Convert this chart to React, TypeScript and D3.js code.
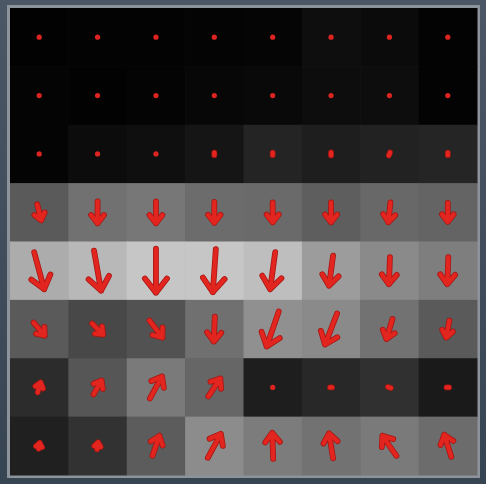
import { useMemo } from 'react';
import * as d3 from 'd3';

// 8x8 flow field: gray = magnitude image, arrows = (u, v) vectors
const rowIds = ['r0', 'r1', 'r2', 'r3', 'r4', 'r5', 'r6', 'r7'];
const colIds = ['c0', 'c1', 'c2', 'c3', 'c4', 'c5', 'c6', 'c7'];

const intensity: number[][] = [
    [2, 3, 3, 4, 5, 14, 11, 3],
    [4, 2, 4, 7, 9, 13, 13, 3],
    [4, 12, 15, 21, 36, 30, 34, 37],
    [90, 113, 119, 108, 106, 94, 104, 100],
    [172, 184, 198, 198, 190, 156, 138, 126],
    [90, 72, 82, 112, 144, 138, 114, 90],
    [44, 86, 122, 102, 30, 40, 48, 26],
    [32, 50, 92, 140, 124, 114, 122, 108],
];

const flowU: number[][] = [
    [0, 0, 0, 0, 0, 0.8, 0.8, 0],
    [0, 0, 0, 0, 0, 0, 0.5, 0],
    [0, 0, 0, 0, 0, 0, -1.2, 0],
    [4, 0, 0, 0, 0, 0, -2, 0],
    [10, 7, 0, -3, -5, -4, -1, -1],
    [11, 11, 13, -1, -12, -12, -6, -3],
    [3, 8, 12, 12, 0, -2, -3, -2.5],
    [1, 1, 7, 13, -1, -4, -14, -7],
];

const flowV: number[][] = [
    [0, 0, 0, 0, 0, 0, 0, 0],
    [0, 0, 0, 0, 0, 0, 0, 0],
    [0, 0, 0.5, 2.5, 2.5, 3, 3, 2.5],
    [16, 22, 22, 21, 20, 20, 20, 19],
    [37, 40, 44, 43, 37, 30, 27, 27],
    [13, 11, 17, 25, 35, 31, 20, 17],
    [-10, -14, -22, -18, -1, 0, -1, 0],
    [-6, -7, -20, -24, -26, -25, -20, -22],
];

const W = 486;
const H = 484;
const grid = { left: 10, top: 8, size: 467 };

export default function App() {
    const x = d3.scaleBand().domain(colIds).range([grid.left, grid.left + grid.size]);
    const y = d3.scaleBand().domain(rowIds).range([grid.top, grid.top + grid.size]);
    const gray = d3.scaleLinear<string>().domain([0, 255]).range(['#000000', '#ffffff']);
    // flow units -> pixels
    const vec = d3.scaleLinear().domain([0, 58.4]).range([0, x.bandwidth()]);

    const cells = useMemo(() => {
        const out: { r: string; c: string; g: number; u: number; v: number }[] = [];
        rowIds.forEach((r, i) =>
            colIds.forEach((c, j) =>
                out.push({ r, c, g: intensity[i][j], u: flowU[i][j], v: flowV[i][j] })
            )
        );
        return out;
    }, []);

    const arrowPath = (cx: number, cy: number, u: number, v: number) => {
        const dx = vec(u);
        const dy = vec(v);
        const len = Math.hypot(dx, dy);
        const x1 = cx - dx / 2, y1 = cy - dy / 2;
        const x2 = cx + dx / 2, y2 = cy + dy / 2;
        const p = d3.path();
        p.moveTo(x1, y1);
        p.lineTo(x2, y2);
        if (len > 6) {
            const head = 0.34 * len + 3;
            const ang = Math.atan2(dy, dx);
            const a = (38 * Math.PI) / 180;
            p.moveTo(x2 - head * Math.cos(ang - a), y2 - head * Math.sin(ang - a));
            p.lineTo(x2, y2);
            p.lineTo(x2 - head * Math.cos(ang + a), y2 - head * Math.sin(ang + a));
        }
        return p.toString();
    };

    return (
        <svg width={W} height={H} style={{ position: 'absolute', left: 0, top: 0 }}>
            <defs>
                <linearGradient id="bg" x1="0" y1="0" x2="0" y2="1">
                    <stop offset="0%" stopColor="#4b5765" />
                    <stop offset="100%" stopColor="#374451" />
                </linearGradient>
            </defs>
            <rect width={W} height={H} fill="url(#bg)" />
            <rect
                x={grid.left - 1.5}
                y={grid.top - 1.5}
                width={grid.size + 3}
                height={grid.size + 3}
                fill="none"
                stroke="#8d939a"
                strokeWidth={3}
            />
            {cells.map(d => (
                <rect
                    key={`bg-${d.r}-${d.c}`}
                    x={x(d.c)}
                    y={y(d.r)}
                    width={x.bandwidth() + 0.5}
                    height={y.bandwidth() + 0.5}
                    fill={gray(d.g)}
                />
            ))}
            {cells.map(d => {
                const cx = (x(d.c) || 0) + x.bandwidth() / 2;
                const cy = (y(d.r) || 0) + y.bandwidth() / 2;
                const len = Math.hypot(vec(d.u), vec(d.v));
                if (len < 1.5) {
                    return (
                        <circle key={`a-${d.r}-${d.c}`} cx={cx} cy={cy} r={2.6} fill="#dd2420" />
                    );
                }
                const path = arrowPath(cx, cy, d.u, d.v);
                return (
                    <g key={`a-${d.r}-${d.c}`} fill="none" strokeLinecap="round" strokeLinejoin="round">
                        <path d={path} stroke="#a51512" strokeWidth={5.8} />
                        <path d={path} stroke="#e2251f" strokeWidth={4.3} />
                    </g>
                );
            })}
        </svg>
    );
}
